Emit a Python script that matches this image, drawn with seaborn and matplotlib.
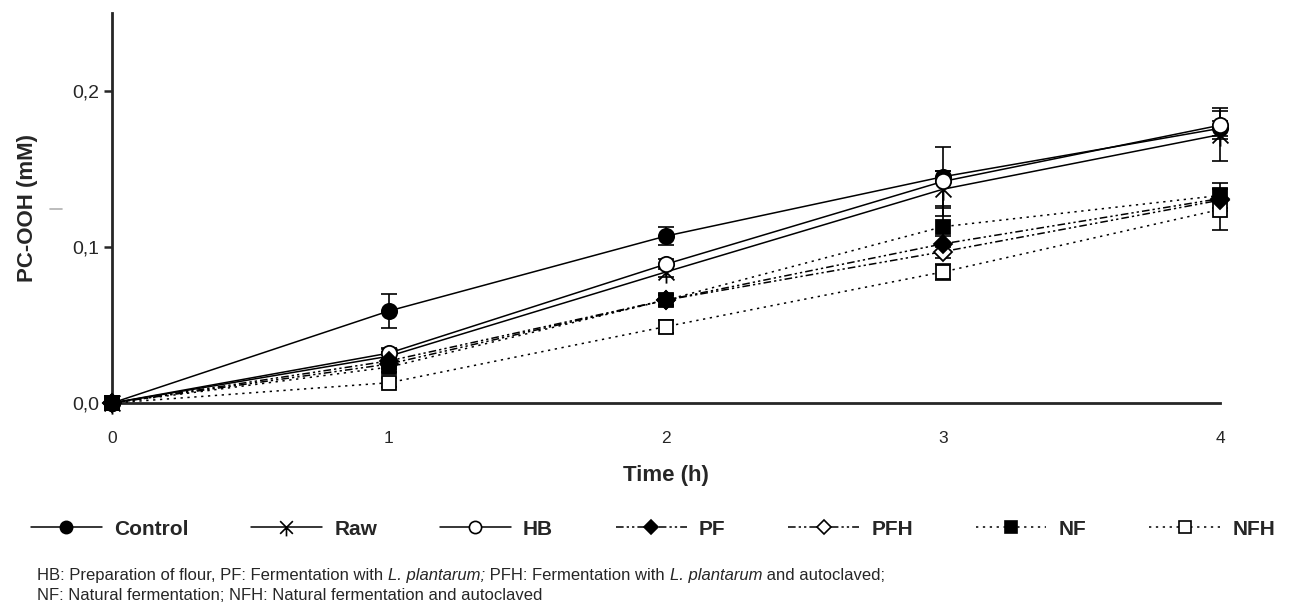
import matplotlib
matplotlib.use("Agg")
import seaborn as sns
import matplotlib.pyplot as plt
from matplotlib.lines import Line2D
from matplotlib.path import Path
from matplotlib.ticker import FuncFormatter

# values (mean PC-OOH, mM) and error bars
time_h = [0, 1, 2, 3, 4]
samples = ["Control", "Raw", "HB", "PF", "PFH", "NF", "NFH"]
control = [0.0, 0.059, 0.107, 0.145, 0.176]
raw = [0.0, 0.030, 0.084, 0.137, 0.172]
hb = [0.0, 0.032, 0.089, 0.142, 0.178]
pf = [0.0, 0.027, 0.066, 0.102, 0.131]
pfh = [0.0, 0.025, 0.066, 0.097, 0.130]
nf = [0.0, 0.023, 0.066, 0.113, 0.133]
nfh = [0.0, 0.013, 0.049, 0.084, 0.124]

control_err = [0.0, 0.011, 0.006, 0.004, 0.005]
raw_err = [0.0, 0.003, 0.003, 0.012, 0.017]
hb_err = [0.0, 0.003, 0.003, 0.022, 0.009]
pf_err = [0.0, 0.004, 0.004, 0.005, 0.006]
pfh_err = [0.0, 0.003, 0.003, 0.004, 0.007]
nf_err = [0.0, 0.003, 0.003, 0.013, 0.008]
nfh_err = [0.0, 0.003, 0.004, 0.005, 0.013]

means = [control, raw, hb, pf, pfh, nf, nfh]
errs = [control_err, raw_err, hb_err, pf_err, pfh_err, nf_err, nfh_err]

# X with a stem below, like the original "Raw" symbol
star = Path([(-1, 1), (1, -1), (-1, -1), (1, 1), (0, 0), (0, -1.4)],
            [Path.MOVETO, Path.LINETO, Path.MOVETO, Path.LINETO, Path.MOVETO, Path.LINETO])

dashdot = (0, (5, 2, 1.5, 2, 1.5, 2))
dotted = (0, (1.5, 3))
styles = {
    "Control": dict(marker="o", mfc="k", ls="-", ms=11, z=3.1),
    "Raw": dict(marker=star, mfc="none", ls="-", ms=16, z=3.2),
    "HB": dict(marker="o", mfc="w", ls="-", ms=11, z=3.3),
    "PF": dict(marker="D", mfc="k", ls=dashdot, ms=9, z=3.5),
    "PFH": dict(marker="D", mfc="w", ls=dashdot, ms=9, z=3.4),
    "NF": dict(marker="s", mfc="k", ls=dotted, ms=10, z=3.6),
    "NFH": dict(marker="s", mfc="w", ls=dotted, ms=10, z=3.0),
}

sns.set_style("ticks")
plt.rcParams["font.family"] = ["Liberation Sans", "DejaVu Sans"]

fig = plt.figure(figsize=(12.93, 6.14), dpi=100)
ax = fig.add_axes([0.0866, 0.3436, 0.8569, 0.6354])

for name, y, e in zip(samples, means, errs):
    st = styles[name]
    eb = ax.errorbar(time_h, y, yerr=e, fmt="none", ecolor="k", elinewidth=1.2,
                     capsize=6, capthick=1.2, zorder=st["z"] - 1)
    for art in eb.get_children():
        art.set_clip_on(False)
    sns.lineplot(x=time_h, y=y, ax=ax, color="k", lw=1.1, linestyle=st["ls"],
                 marker=st["marker"], markersize=st["ms"], mfc=st["mfc"],
                 mec="k", mew=1.3, zorder=st["z"], clip_on=False)

ax.set_xlim(0, 4)
ax.set_ylim(0, 0.25)
ax.set_xticks(time_h)
ax.set_yticks([0, 0.1, 0.2])
ax.yaxis.set_major_formatter(FuncFormatter(lambda v, p: f"{v:.1f}".replace(".", ",")))
ax.tick_params(axis="x", length=0, pad=20, labelsize=12.5)
ax.tick_params(axis="y", length=6, width=1.8, labelsize=14, direction="out")
sns.despine(ax=ax)
for sp in ("left", "bottom"):
    ax.spines[sp].set_linewidth(2)
ax.set_xlabel("Time (h)", fontsize=16, fontweight="bold", labelpad=14)
ax.set_ylabel("PC-OOH (mM)", fontsize=16, fontweight="bold", labelpad=24)

handles = []
for name in samples:
    st = styles[name]
    handles.append(Line2D([], [], color="k", lw=1.1, linestyle=st["ls"], marker=st["marker"],
                          markersize=st["ms"] * 0.8, mfc=st["mfc"], mec="k", mew=1.2))
fig.legend(handles, samples, loc="center", bbox_to_anchor=(0.505, 0.138), ncol=7,
           frameon=False, handlelength=3.4, columnspacing=3.0, handletextpad=0.6,
           prop={"weight": "bold", "size": 15})

# footnote, with the species name in italics
renderer = fig.canvas.get_renderer()
foot = [
    [("HB: Preparation of flour, PF: Fermentation with ", "normal"), ("L. plantarum;", "italic"),
     (" PFH: Fermentation with ", "normal"), ("L. plantarum", "italic"), (" and autoclaved;", "normal")],
    [("NF: Natural fermentation; NFH: Natural fermentation and autoclaved", "normal")],
]
for row, yy in zip(foot, [0.056, 0.022]):
    x0 = 0.029
    for piece, style in row:
        t = fig.text(x0, yy, piece, fontsize=12, fontstyle=style, va="baseline", ha="left")
        bb = t.get_window_extent(renderer)
        x0 = fig.transFigure.inverted().transform((bb.x1, bb.y0))[0]

# small grey stroke left of the y label in the original
fig.add_artist(Line2D([50 / 1293, 62 / 1293], [1 - 209 / 614] * 2, color="#b0b0b0", lw=1.2))

fig.savefig("out.png", dpi=100)
